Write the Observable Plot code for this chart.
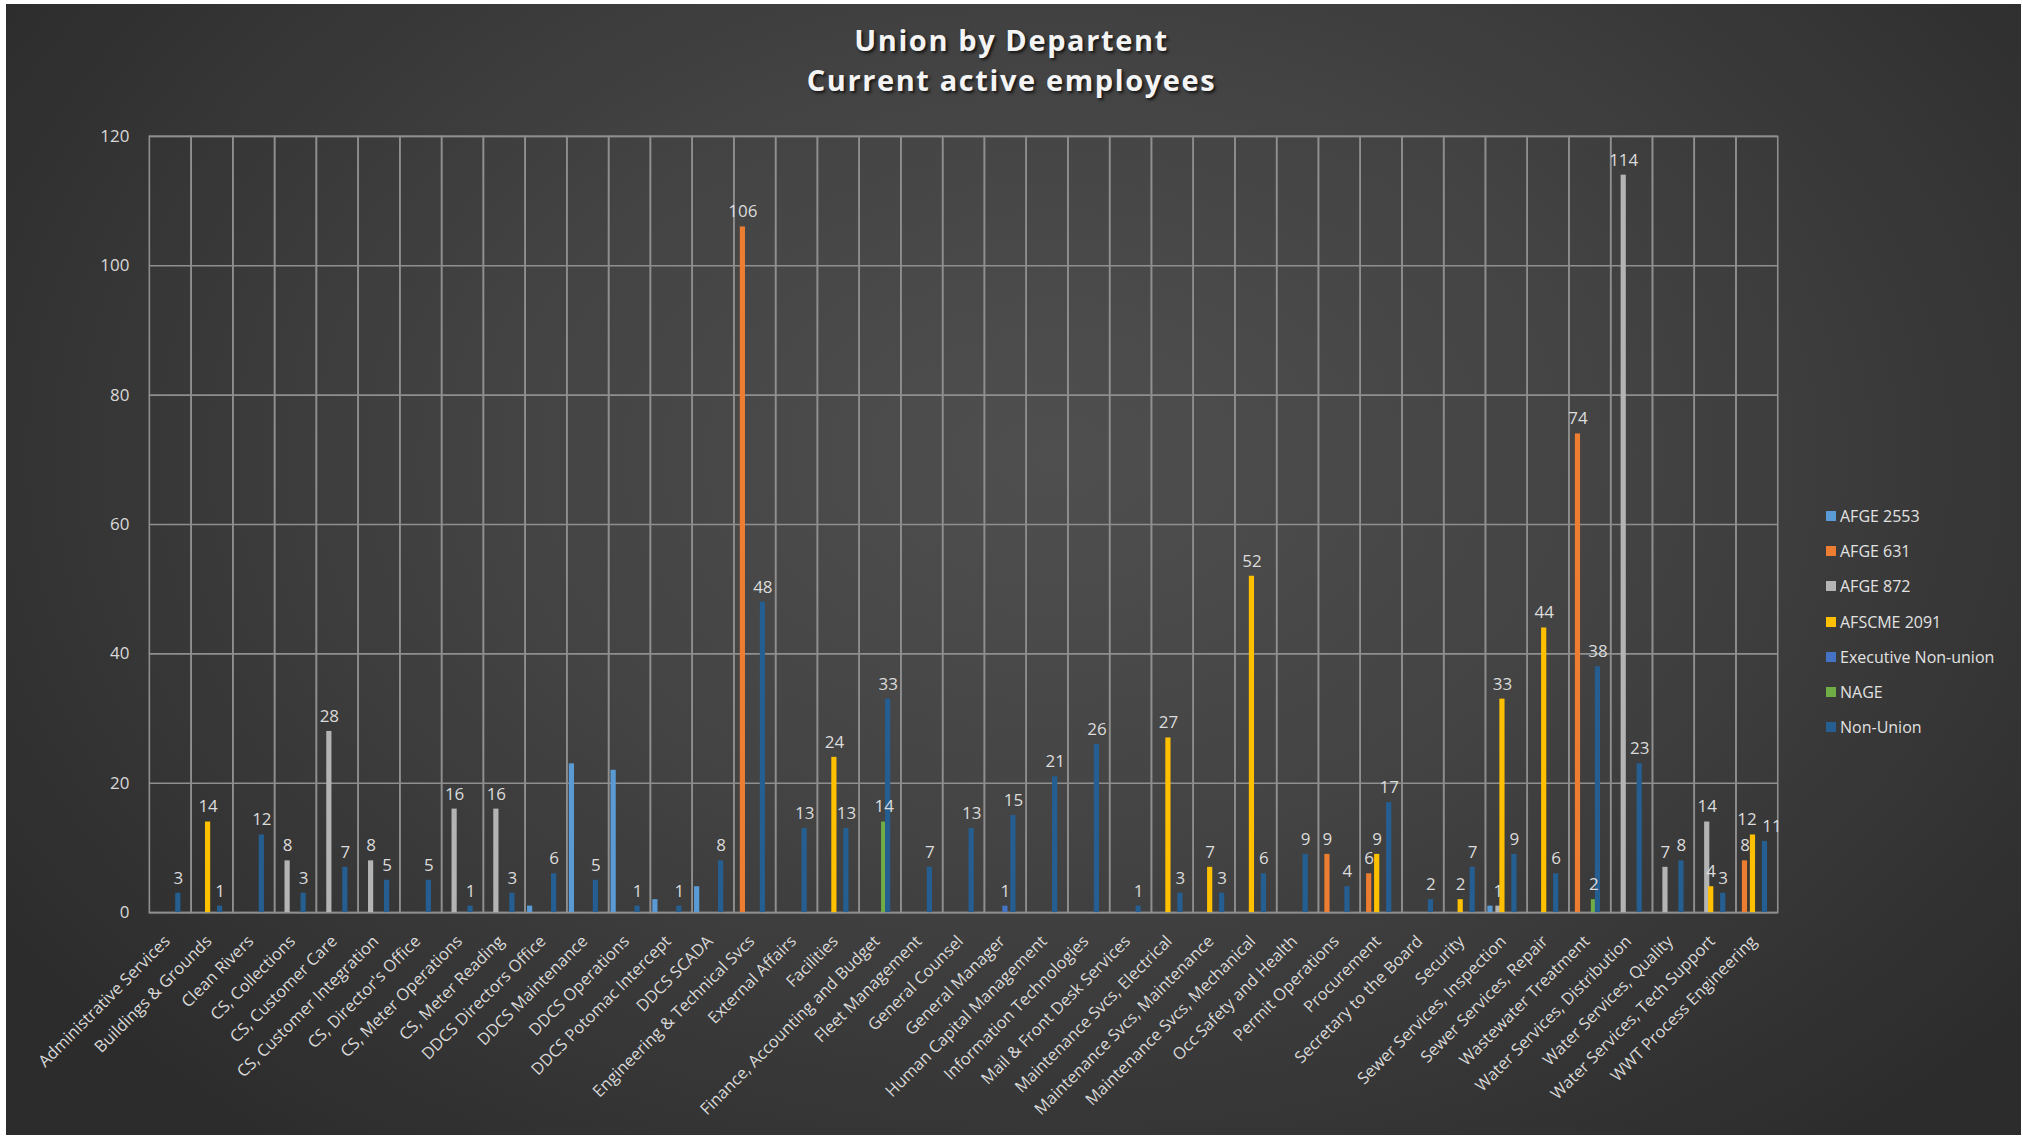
<!DOCTYPE html>
<html>
<head>
<meta charset="utf-8">
<script src="https://cdn.jsdelivr.net/npm/d3@7"></script>
<script src="https://cdn.jsdelivr.net/npm/@observablehq/plot@0.6"></script>
<style>
  html, body { margin: 0; padding: 0; background: #ffffff; }
  #wrap {
    position: absolute; left: 6px; top: 4px; width: 2015px; height: 1131px;
    background: radial-gradient(ellipse 62% 78% at 52% 40%, #4f4f4f 0%, #434343 45%, #2c2c2c 100%);
    overflow: hidden;
  }
  #chart { position: absolute; left: -6px; top: -4px; }
  #title {
    position: absolute; left: 0; width: 2023px; top: 16px; margin-left: -6px;
    text-align: center; color: #f4f4f4; font-family: "Open Sans", sans-serif;
    font-weight: 700; font-size: 29px; line-height: 40px; letter-spacing: 1.6px;
    text-shadow: 2px 2px 3px rgba(0,0,0,0.7);
  }
  #legend { position: absolute; left: 1820px; top: 494px; font-family: "Open Sans", sans-serif; }
  .item { height: 35.3px; display: flex; align-items: center; color: #e2e2e2; font-size: 16px; white-space: nowrap; }
  .sw { width: 10px; height: 10px; margin-right: 4px; }
</style>
</head>
<body>
<div id="wrap">
  <div id="title">Union by Departent<br>Current active employees</div>
  <div id="chart"></div>
  <div id="legend"></div>
</div>
<script>
const departments = [
  "Administrative Services", "Buildings & Grounds", "Clean Rivers", "CS, Collections",
  "CS, Customer Care", "CS, Customer Integration", "CS, Director's Office", "CS, Meter Operations",
  "CS, Meter Reading", "DDCS Directors Office", "DDCS Maintenance", "DDCS Operations",
  "DDCS Potomac Intercept", "DDCS SCADA", "Engineering & Technical Svcs", "External Affairs",
  "Facilities", "Finance, Accounting and Budget", "Fleet Management", "General Counsel",
  "General Manager", "Human Capital Management", "Information Technologies", "Mail & Front Desk Services",
  "Maintenance Svcs, Electrical", "Maintenance Svcs, Maintenance", "Maintenance Svcs, Mechanical", "Occ Safety and Health",
  "Permit Operations", "Procurement", "Secretary to the Board", "Security",
  "Sewer Services, Inspection", "Sewer Services, Repair", "Wastewater Treatment", "Water Services, Distribution",
  "Water Services, Quality", "Water Services, Tech Support", "WWT Process Engineering"
];

const seriesNames = ["AFGE 2553", "AFGE 631", "AFGE 872", "AFSCME 2091", "Executive Non-union", "NAGE", "Non-Union"];
const seriesColors = ["#5b9bd5", "#ed7d31", "#b4b4b4", "#ffc000", "#4472c4", "#70ad47", "#255e91"];
const labelledSeries = ["AFGE 631", "AFGE 872", "AFSCME 2091", "Executive Non-union", "NAGE", "Non-Union"];

const _ = null;
//                 0  1  2  3  4  5  6  7  8  9 10 11 12 13  14 15 16 17 18 19 20 21 22 23 24 25 26 27 28 29 30 31 32 33 34  35 36 37 38
const afge2553   = [_, _, _, _, _, _, _, _, _, 1,23,22, 2, 4,  _, _, _, _, _, _, _, _, _, _, _, _, _, _, _, _, _, _, 1, _, _,  _, _, _, _];
const afge631    = [_, _, _, _, _, _, _, _, _, _, _, _, _, _,106, _, _, _, _, _, _, _, _, _, _, _, _, _, 9, 6, _, _, _, _,74,  _, _, _, 8];
const afge872    = [_, _, _, 8,28, 8, _,16,16, _, _, _, _, _,  _, _, _, _, _, _, _, _, _, _, _, _, _, _, _, _, _, _, 1, _, _,114, 7,14, _];
const afscme2091 = [_,14, _, _, _, _, _, _, _, _, _, _, _, _,  _, _,24, _, _, _, _, _, _, _,27, 7,52, _, _, 9, _, 2,33,44, _,  _, _, 4,12];
const execNonUnion=[_, _, _, _, _, _, _, _, _, _, _, _, _, _,  _, _, _, _, _, _, 1, _, _, _, _, _, _, _, _, _, _, _, _, _, _,  _, _, _, _];
const nage       = [_, _, _, _, _, _, _, _, _, _, _, _, _, _,  _, _, _,14, _, _, _, _, _, _, _, _, _, _, _, _, _, _, _, _, 2,  _, _, _, _];
const nonUnion   = [3, 1,12, 3, 7, 5, 5, 1, 3, 6, 5, 1, 1, 8, 48,13,13,33, 7,13,15,21,26, 1, 3, 3, 6, 9, 4,17, 2, 7, 9, 6,38, 23, 8, 3,11];

const yTicks = [0, 20, 40, 60, 80, 100, 120];

const seriesValues = [afge2553, afge631, afge872, afscme2091, execNonUnion, nage, nonUnion];
const data = [];
seriesNames.forEach((s, si) => {
  seriesValues[si].forEach((v, di) => {
    if (v != null) data.push({dept: departments[di], series: s, value: v});
  });
});
const labelData = data.filter(d => labelledSeries.includes(d.series));
// two crowded labels in the last department get nudged apart
const lastDept = departments[departments.length - 1];
const isCrowdedLeft = d => d.dept === lastDept && d.series === "AFSCME 2091";
const isCrowdedRight = d => d.dept === lastDept && d.series === "Non-Union";
const normalLabels = labelData.filter(d => !isCrowdedLeft(d) && !isCrowdedRight(d));
const leftLabels = labelData.filter(isCrowdedLeft);
const rightLabels = labelData.filter(isCrowdedRight);

const W = 2023, H = 1136;
const gridColor = "#8f8f8f";
const labelStyle = {fx: "dept", x: "series", y: "value", text: d => String(d.value), dy: -15, fontSize: 17, fill: "#dcdcdc"};

const chart = Plot.plot({
  width: W,
  height: H,
  marginLeft: 149,
  marginRight: W - 1779,
  marginTop: 136,
  marginBottom: H - 913,
  style: {background: "transparent", color: "#d9d9d9", fontFamily: "Open Sans, sans-serif", overflow: "visible"},
  fx: {domain: departments, padding: 0, label: null},
  x: {domain: seriesNames, paddingInner: 0, paddingOuter: 0.8, align: 0.24, axis: null},
  y: {domain: [0, 120], label: null},
  color: {domain: seriesNames, range: seriesColors},
  marks: [
    Plot.gridY(yTicks, {stroke: gridColor, strokeOpacity: 1, strokeWidth: 1.6}),
    Plot.frame({stroke: gridColor, strokeWidth: 1.6}),
    Plot.axisY(yTicks, {tickSize: 0, tickPadding: 20, fontSize: 17, fill: "#d9d9d9", label: null}),
    Plot.axisFx({anchor: "bottom", tickRotate: -45, tickSize: 0, tickPadding: 26, dx: -3, fontSize: 16.5, fill: "#d9d9d9", label: null}),
    Plot.barY(data, {fx: "dept", x: "series", y: "value", fill: "series", insetLeft: -0.6, insetRight: -0.6}),
    Plot.text(normalLabels, labelStyle),
    Plot.text(leftLabels, {...labelStyle, dx: -6}),
    Plot.text(rightLabels, {...labelStyle, dx: 7})
  ]
});
document.getElementById("chart").appendChild(chart);

const legend = document.getElementById("legend");
seriesNames.forEach((s, i) => {
  const item = document.createElement("div");
  item.className = "item";
  const sw = document.createElement("span");
  sw.className = "sw";
  sw.style.background = seriesColors[i];
  const t = document.createElement("span");
  t.textContent = s;
  item.appendChild(sw);
  item.appendChild(t);
  legend.appendChild(item);
});
</script>
</body>
</html>
